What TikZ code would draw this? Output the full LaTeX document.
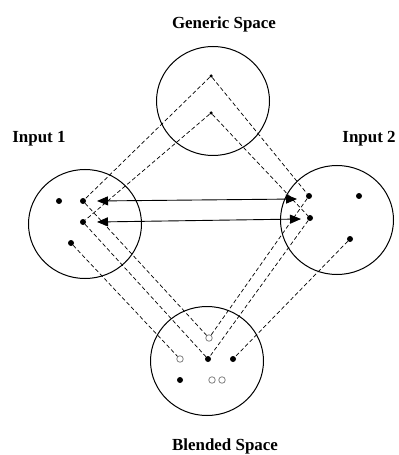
\documentclass[tikz,border=0pt]{standalone}
\usepackage{fontspec}
\setmainfont{Liberation Serif}
\usetikzlibrary{arrows.meta,shapes.geometric}
\begin{document}
\begin{tikzpicture}[x=1bp,y=-1bp,
 space/.style={draw, ellipse, line width=1bp, minimum width=113bp, minimum height=109bp, inner sep=0},
 fdot/.style={circle, fill=black, inner sep=0, minimum size=6bp},
 sdot/.style={circle, fill=black, inner sep=0, minimum size=3.5bp},
 hdot/.style={circle, draw=black!50, fill=white, line width=0.8bp, inner sep=0, minimum size=6.5bp},
 map/.style={dash pattern=on 4bp off 2.5bp, line width=0.7bp},
 rel/.style={line width=0.9bp, {Triangle[length=11bp,width=9bp]}-{Triangle[length=11bp,width=9bp]}},
 lbl/.style={font=\bfseries\fontsize{17}{20}\selectfont, inner sep=0}
]
\useasboundingbox (0,0) rectangle (398,455);

% spaces
\node[space] (G) at (213,101) {};
\node[space] (I1) at (85,224) {};
\node[space] (I2) at (337,220) {};
\node[space] (B) at (207,361) {};

% labels
\node[lbl] (lG) at (224,24) {Generic Space};
\node[lbl] (lI1) at (39,139) {Input 1};
\node[lbl] (lI2) at (369,139) {Input 2};
\node[lbl] (lB) at (225,446) {Blended Space};

% generic dots
\node[sdot] (g1) at (211,76) {};
\node[sdot] (g2) at (211,113) {};

% input 1 dots
\node[fdot] (a0) at (59,201) {};
\node[fdot] (a1) at (83,201) {};
\node[fdot] (a2) at (83,222) {};
\node[fdot] (a3) at (71,243) {};

% input 2 dots
\node[fdot] (b1) at (309,196) {};
\node[fdot] (b0) at (359,196) {};
\node[fdot] (b2) at (310,218) {};
\node[fdot] (b3) at (350,239) {};

% blended dots
\node[hdot] (c1) at (209,338) {};
\node[hdot] (c2) at (180,359) {};
\node[fdot] (c3) at (208,359) {};
\node[fdot] (c4) at (233,359) {};
\node[fdot] (c5) at (180,380) {};
\node[hdot] (c6) at (212,380) {};
\node[hdot] (c7) at (222,380) {};

% mappings
\draw[map] (g1) -- (a1);
\draw[map] (g2) -- (a2);
\draw[map] (g1) -- (b1);
\draw[map] (g2) -- (b2);
\draw[map] (a1) -- (c1);
\draw[map] (a2) -- (c3);
\draw[map] (a3) -- (c2);
\draw[map] (b1) -- (c1);
\draw[map] (b2) -- (c3);
\draw[map] (b3) -- (c4);

% cross-space relations
\coordinate (r1l) at (97,201);
\coordinate (r1r) at (297,199);
\coordinate (r2l) at (97,222);
\coordinate (r2r) at (301,219);
\draw[rel] (r1l) -- (r1r);
\draw[rel] (r2l) -- (r2r);
\end{tikzpicture}
\end{document}
